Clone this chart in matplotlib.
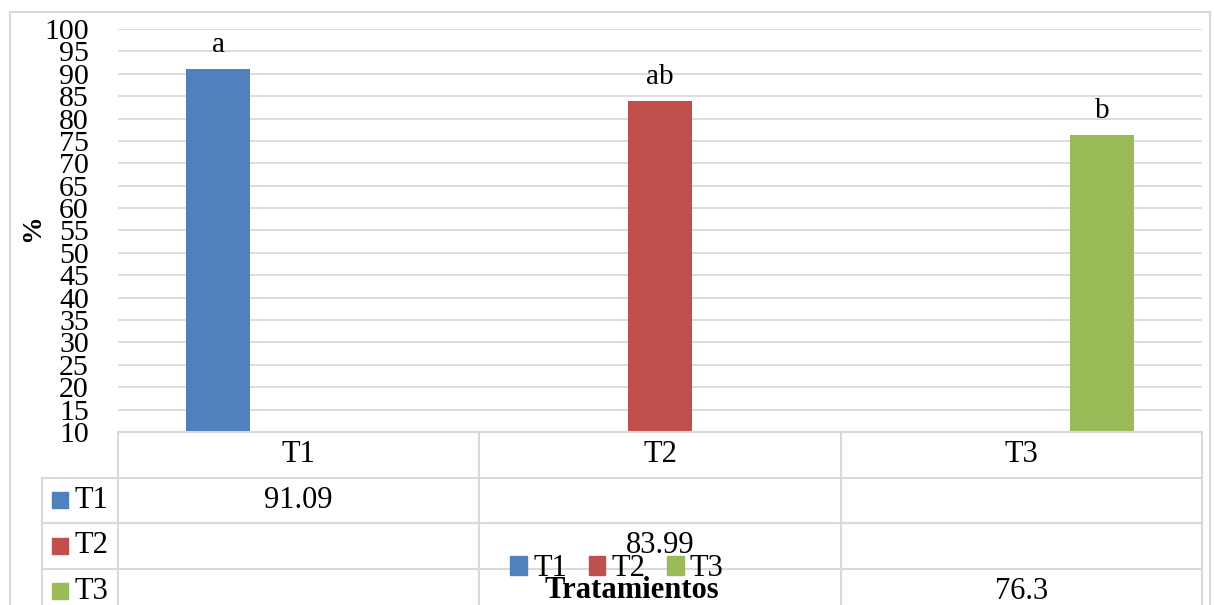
import matplotlib
matplotlib.use("Agg")
import matplotlib.pyplot as plt
from matplotlib.patches import Rectangle
from matplotlib.lines import Line2D

# --- data ---------------------------------------------------------------
categories = ["T1", "T2", "T3"]
series_names = ["T1", "T2", "T3"]
values = [91.09, 83.99, 76.3]          # each series has a value only in its own category
value_labels = ["91.09", "83.99", "76.3"]
letters = ["a", "ab", "b"]
yticks = list(range(10, 101, 5))
colors = ["#4F81BD", "#C0504D", "#9BBB59"]
axis_title = "Tratamientos"
y_title = "%"

# --- figure / layout ------------------------------------------------------
plt.rcParams["font.family"] = ["Liberation Serif", "DejaVu Serif"]
W, H = 1214, 605
fig = plt.figure(figsize=(W / 100, H / 100), dpi=100)
GRID = "#d9d9d9"


def fx(px):
    return px / W


def fy(py):
    return 1 - py / H


L, R, T, B = 118, 1202, 29, 432
ROW_BOTTOM = 614
ax = fig.add_axes([fx(L), fy(B), fx(R) - fx(L), fy(T) - fy(B)])

n = len(categories)
bar_w = 0.177
step = 0.223
for i, (name, v, c) in enumerate(zip(series_names, values, colors)):
    x = i + (i - 1) * step
    ax.bar(x, v, width=bar_w, color=c, zorder=3)
    ax.annotate(letters[i], (x, v), xytext=(0, 12), textcoords="offset points",
                ha="center", va="baseline", fontsize=21)

ax.set_xlim(-0.5, n - 0.5)
ax.set_ylim(10, 100)
ax.set_yticks(yticks)
ax.set_xticks([])
ax.tick_params(axis="y", length=0, pad=21, labelsize=21.5)
for s in ax.spines.values():
    s.set_visible(False)
ax.yaxis.grid(True, color=GRID, lw=1.3)
ax.set_axisbelow(True)

# --- data table under the plot -------------------------------------------
tab = fig.add_axes([fx(L), fy(ROW_BOTTOM), fx(R) - fx(L), fy(B) - fy(ROW_BOTTOM)])
tab.set_xlim(-0.5, n - 0.5)
tab.set_ylim(n + 1, 0)
tab.axis("off")
cat_px = (R - L) / n


def tx(px):
    return -0.5 + (px - L) / cat_px


x_left = tx(42)
lk = dict(color=GRID, lw=1.5, clip_on=False)
tab.add_line(Line2D([-0.5, n - 0.5], [0, 0], **lk))
for r in range(1, n + 2):
    tab.add_line(Line2D([x_left, n - 0.5], [r, r], **lk))
for k in range(n + 1):
    tab.add_line(Line2D([k - 0.5, k - 0.5], [0, n + 1], **lk))
tab.add_line(Line2D([x_left, x_left], [1, n + 1], **lk))

for j, cat in enumerate(categories):
    tab.text(j, 0.5, cat, ha="center", va="center", fontsize=22, clip_on=False)

for i, (name, c) in enumerate(zip(series_names, colors)):
    yc = i + 1.5
    sq_w = 16 / cat_px
    tab.add_patch(Rectangle((tx(52), yc - 0.18), sq_w, 0.36, color=c, clip_on=False))
    tab.text(tx(75), yc, name, ha="left", va="center", fontsize=22, clip_on=False)
    tab.text(i, yc, value_labels[i], ha="center", va="center", fontsize=22, clip_on=False)

# --- legend and axis titles -----------------------------------------------
handles = [Rectangle((0, 0), 1, 1, color=c) for c in colors]
fig.legend(handles, series_names, loc="center", bbox_to_anchor=(fx(617), fy(569)),
           ncol=3, frameon=False, fontsize=22, handlelength=0.55, handleheight=0.55,
           handletextpad=0.2, columnspacing=0.7, borderpad=0, borderaxespad=0)
fig.text(fx(632), fy(591), axis_title, ha="center", va="center", fontsize=22,
         fontweight="bold")
fig.text(fx(33), fy(228), y_title, ha="center", va="center", fontsize=20,
         fontweight="bold", rotation=90)

# chart border (display pixels, origin at the lower-left corner)
fig.patches.append(Rectangle((10, -10), 1200, H - 12 + 10, transform=None,
                             fill=False, edgecolor=GRID, lw=1.5))

fig.savefig("out.png", dpi=100)
